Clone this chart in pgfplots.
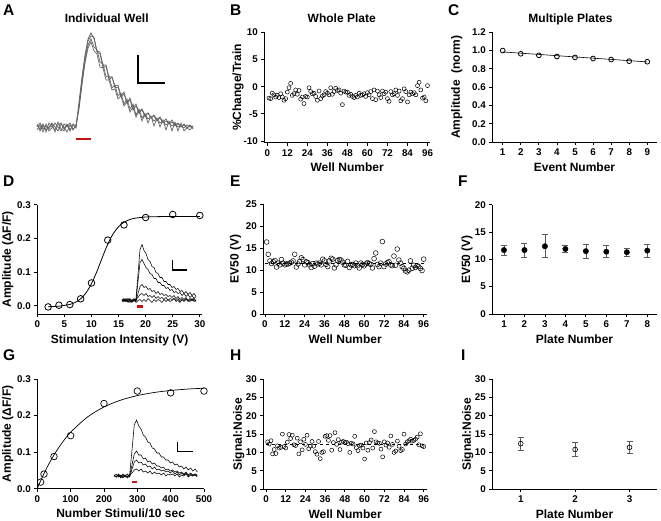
\documentclass[border=0pt]{standalone}
\usepackage{fontspec}
\setmainfont{Liberation Sans}
\usepackage{pgfplots}
\usepackage{pgfplotstable}
\pgfplotsset{compat=1.18}

\definecolor{stimred}{RGB}{200,18,18}
\definecolor{tracegray}{RGB}{100,100,100}
\definecolor{errgray}{RGB}{90,90,90}

\pgfplotsset{
  prism/.style={
    scale only axis, anchor=south west,
    axis lines=left,
    axis line style={-, line width=0.8pt},
    x axis line style={-}, y axis line style={-},
    every tick/.style={black, line width=0.8pt},
    tick align=outside, major tick length=3pt,
    tick label style={font=\bfseries\fontsize{9.8}{10}\selectfont},
    label style={font=\bfseries\fontsize{12}{13}\selectfont},
    /pgf/number format/assume math mode=true,
    clip=false,
  },
  trace/.style={scale only axis, anchor=south west, hide axis, clip=false},
  oneDec/.style={yticklabel style={/pgf/number format/.cd, fixed, fixed zerofill, precision=1}},
}

\pgfplotstableread{
x a b c d
37 3 -3 0 2
40 -4 2 4 -2
43 2 -5 -2 3
46 -5 3 1 -3
49 4 -2 -4 0
52 0 4 -1 3
55 -3 0 4 -5
58 5 -4 0 2
61 -2 3 -4 4
64 -4 0 3 -2
67 3 -5 0 2
70 -3 2 4 -4
73 2 -3 -2 3
76 -1 2 0 1
79 25 20 22 18
82 50 45 48 42
85 72 66 70 64
88 88 82 86 79
91 94 88 91 85
94 88 80 90 76
97 75 77 76 73
100 73 65 75 60
103 59 63 62 59
106 61 50 62 47
109 47 51 50 47
112 50 39 50 37
115 39 42 41 38
118 40 31 42 28
121 30 34 31 31
124 33 23 35 21
127 24 28 24 25
130 27 18 29 15
133 17 23 19 20
136 21 12 23 10
139 14 18 15 16
142 17 9 18 6
145 10 13 12 13
148 14 8 14 4
151 9 10 9 11
154 11 6 12 1
157 6 8 7 9
160 9 4 10 0
163 4 6 5 7
166 6 2 8 -3
169 3 4 3 6
172 5 1 7 -4
175 1 3 2 5
178 3 0 4 -4
181 0 1 0 4
184 2 -1 3 -4
187 -1 2 -1 -1
190 1 0 2 -3
193 -2 1 -1 1
}\traceA

\pgfplotstableread{
x a b c d e f
122 1 -1 0 1 -1 0
124 -1 1 2 -1 1 -1
126 2 0 -1 1 -1 1
128 0 2 1 -2 0 -1
130 -2 0 -1 1 2 2
132 1 -2 0 -1 -1 0
134 -1 1 2 0 1 -2
136 2 0 -1 1 -2 1
138 26 19 7 3 0 11
140 51 38 14 6 1 22
142 56 41 16 7 -1 25
144 50 37 13 5 1 21
146 47 33 14 7 -1 21
148 41 31 11 4 2 17
150 39 27 12 5 0 18
152 34 26 9 3 -2 14
154 33 22 10 5 1 15
156 28 22 7 2 -1 12
158 27 18 9 4 1 13
160 23 18 6 2 0 10
162 23 15 7 3 -2 10
164 19 15 5 1 1 8
166 19 12 6 3 -1 9
168 16 13 4 0 1 6
170 16 10 5 2 -1 7
172 13 11 3 1 0 5
174 14 8 5 2 2 6
176 11 9 2 0 -1 4
178 12 7 4 2 0 5
180 9 8 1 -1 -2 3
182 10 5 3 1 1 4
184 7 7 1 0 -1 2
186 9 4 3 2 1 4
188 6 6 0 -1 0 1
190 8 3 2 1 -1 3
192 5 5 0 0 2 1
194 7 2 2 1 -1 2
196 4 4 0 -1 0 1
}\traceInset

\begin{document}
\begin{tikzpicture}
\useasboundingbox (0,0) rectangle (661pt,521pt);

% ---------- panel letters and titles ----------
\begin{scope}[every node/.style={font=\bfseries\fontsize{15.5}{15.5}\selectfont, anchor=base west, inner sep=0pt}]
\node at (3pt,505pt) {A};
\node at (230pt,505pt) {B};
\node at (448pt,505pt) {C};
\node at (3pt,334pt) {D};
\node at (230pt,334pt) {E};
\node at (458pt,334pt) {F};
\node at (3pt,160pt) {G};
\node at (230pt,160pt) {H};
\node at (461pt,160pt) {I};
\end{scope}
\begin{scope}[every node/.style={font=\bfseries\fontsize{12}{12}\selectfont, anchor=base, inner sep=0pt}]
\node at (106.7pt,498.3pt) {Individual Well};
\node at (341.7pt,498.3pt) {Whole Plate};
\node at (570.5pt,498.3pt) {Multiple Plates};
\end{scope}

% ---------- A: traces ----------
\begin{axis}[trace, at={(36pt,379pt)}, width=158pt, height=115pt,
  xmin=36, xmax=194, ymin=-15, ymax=100]
\foreach \c in {a,b,c,d}{
  \addplot[tracegray, line width=0.7pt] table[x=x, y=\c] {\traceA};
}
\draw[stimred, line width=2.2pt] (axis cs:76,-12) -- (axis cs:90.7,-12);
\draw[black, line width=1.2pt] (axis cs:138,72) -- (axis cs:138,44) -- (axis cs:165,44);
\end{axis}

% ---------- B ----------
\begin{axis}[prism, at={(264.3pt,378.3pt)}, width=165.7pt, height=110.4pt,
  xmin=-1.8, xmax=97.5, ymin=-10.3, ymax=10,
  xtick={0,12,...,96}, ytick={-10,-5,0,5,10}, ylabel shift=-7pt,
  xlabel={Well Number}, ylabel={\%Change/Train}]
\addplot[only marks, mark=o, mark size=2pt, mark options={line width=0.5pt}, black] coordinates {
(1,-2.1) (2,-2.2) (3,-1.2) (4,-1.5) (5,-1.9) (6,-1.6) (7,-2.0) (8,-1.3) (9,-1.9) (10,-2.5)
(11,-2.2) (12,-1.0) (13,-0.2) (14,0.6) (15,-1.6) (16,-1.3) (17,-0.6) (18,-1.4) (19,-0.7) (20,-2.3)
(21,-1.9) (22,-3.1) (23,-1.8) (24,-1.9) (25,-0.2) (26,-0.9) (27,-1.3) (28,-1.2) (29,-1.8) (30,-2.5)
(31,-0.8) (32,-2.2) (33,-1.7) (34,-1.5) (35,-0.9) (36,-1.2) (37,-1.5) (38,-0.2) (39,-1.4) (40,-0.9)
(41,-0.3) (42,-0.7) (43,-0.6) (44,-1.2) (45,-3.3) (46,-0.8) (47,-1.0) (48,-1.0) (49,-1.6) (50,-1.4)
(51,-1.8) (52,-2.0) (53,-1.6) (54,-1.9) (55,-1.2) (56,-1.6) (57,-1.5) (58,-1.3) (59,-1.8) (60,-1.1)
(61,-1.5) (62,-0.9) (63,-2.2) (64,-0.6) (65,-2.4) (66,-0.8) (67,-1.5) (68,-2.0) (69,-0.8) (70,-1.3)
(71,-1.0) (72,-2.2) (73,-2.7) (74,-0.9) (75,-1.5) (76,-1.3) (77,-0.6) (78,-1.6) (79,-0.8) (80,-2.6)
(81,-2.2) (82,-0.4) (83,-0.9) (84,-2.8) (85,-1.5) (86,-1.0) (87,-1.3) (88,-1.1) (89,-1.5) (90,0.2)
(91,0.8) (92,-0.6) (93,-2.1) (94,-1.9) (95,-2.6) (96,0.2)};
\end{axis}

% ---------- C ----------
\begin{axis}[prism, oneDec, at={(492.3pt,379pt)}, width=164.4pt, height=109.7pt,
  xmin=0.425, xmax=9.52, ymin=0, ymax=1.2,
  xtick={1,...,9}, ytick={0,0.2,...,1.2}, ylabel shift=3pt,
  xlabel={Event Number}, ylabel={Amplitude\ \ (norm)}]
\addplot[black, line width=0.6pt] coordinates {(1,0.985) (9,0.876)};
\addplot[only marks, mark=o, mark size=2.4pt, mark options={line width=0.8pt, fill=white}, black] coordinates {
(1,1.0) (2,0.965) (3,0.948) (4,0.935) (5,0.925) (6,0.913) (7,0.902) (8,0.884) (9,0.878)};
\end{axis}

% ---------- D ----------
\begin{axis}[prism, oneDec, at={(37.3pt,207pt)}, width=164.7pt, height=109.3pt,
  xmin=0, xmax=30.4, ymin=-0.024, ymax=0.3,
  xtick={0,5,...,30}, ytick={0,0.1,0.2,0.3}, ylabel shift=-3pt,
  xlabel={Stimulation Intensity (V)}, ylabel={Amplitude (ΔF/F)}]
\addplot[black, line width=0.8pt, smooth] coordinates {
(2,-0.0024) (4,-0.0008) (6,0.0044) (7,0.0105) (8,0.021) (9,0.0388) (10,0.066) (11,0.102)
(11.5,0.1226) (12,0.1435) (12.5,0.1638) (13,0.1826) (13.5,0.1993) (14,0.2136) (15,0.2348)
(16,0.2479) (17,0.2556) (18,0.2599) (20,0.2635) (22,0.2645) (25,0.265) (30,0.265)};
\addplot[only marks, mark=o, mark size=3.3pt, mark options={line width=0.8pt, fill=white}, black] coordinates {
(2,-0.003) (4,0.002) (6,0.004) (8,0.021) (10,0.068) (13,0.195) (16,0.24) (20,0.262) (25,0.271) (30,0.268)};
\end{axis}
\begin{axis}[trace, at={(120pt,210.5pt)}, width=78pt, height=70pt,
  xmin=120, xmax=198, ymin=-10, ymax=60]
\foreach \c in {e,d,c,b,a}{
  \addplot[black, line width=0.55pt] table[x=x, y=\c] {\traceInset};
}
\draw[stimred, line width=2.2pt] (axis cs:136.7,-6) -- (axis cs:142.7,-6);
\draw[black, line width=1.2pt] (axis cs:172.3,40) -- (axis cs:172.3,30.5) -- (axis cs:187.3,30.5);
\end{axis}

% ---------- E ----------
\begin{axis}[prism, at={(263.3pt,207pt)}, width=163.7pt, height=109.7pt,
  xmin=-1.0, xmax=98, ymin=0, ymax=25,
  xtick={0,12,...,96}, ytick={0,5,...,25}, ylabel shift=-2pt,
  xlabel={Well Number}, ylabel={EV50 (V)}]
\addplot[black, dashed, line width=0.6pt] coordinates {(0,11.5) (96,11.5)};
\addplot[only marks, mark=o, mark size=2.4pt, mark options={line width=0.5pt}, black] coordinates {
(1,16.4) (2,13.6) (3,12.1) (4,11.5) (5,11.9) (6,12.2) (7,10.7) (8,11.6) (9,11.2) (10,12.4)
(11,11.6) (12,11.2) (13,11.4) (14,11.4) (15,11.6) (16,11.8) (17,12.1) (18,13.6) (19,10.7) (20,11.4)
(21,12.0) (22,12.8) (23,12.4) (24,11.2) (25,11.9) (26,11.7) (27,11.2) (28,10.6) (29,11.5) (30,10.9)
(31,11.6) (32,11.4) (33,11.6) (34,11.2) (35,12.5) (36,12.1) (37,11.3) (38,10.8) (39,12.1) (40,12.7)
(41,12.5) (42,10.5) (43,11.2) (44,12.2) (45,12.4) (46,12.3) (47,11.8) (48,11.2) (49,11.1) (50,12.0)
(51,10.6) (52,11.2) (53,11.3) (54,11.0) (55,11.6) (56,11.0) (57,10.5) (58,11.6) (59,11.3) (60,11.0)
(61,11.4) (62,11.7) (63,11.5) (64,11.3) (65,10.5) (66,12.6) (67,13.9) (68,11.3) (69,10.8) (70,11.6)
(71,16.5) (72,10.8) (73,11.4) (74,11.7) (75,11.9) (76,11.2) (77,11.0) (78,13.2) (79,11.1) (80,14.8)
(81,12.3) (82,11.6) (83,10.8) (84,10.4) (85,9.8) (86,9.6) (87,10.0) (88,12.1) (89,10.4) (90,11.1)
(91,10.6) (92,11.0) (93,10.8) (94,10.4) (95,9.9) (96,12.5)};
\end{axis}

% ---------- F ----------
\begin{axis}[prism, at={(492.3pt,207pt)}, width=164.4pt, height=109.3pt,
  xmin=0.43, xmax=8.46, ymin=0, ymax=20,
  xtick={1,...,8}, ytick={0,5,...,20}, ylabel shift=-4.5pt,
  xlabel={Plate Number}, ylabel={EV50 (V)}]
\addplot[only marks, mark=*, mark size=2.7pt, black,
  error bars/.cd, y dir=both, y explicit,
  error bar style={line width=0.7pt, errgray},
  error mark options={rotate=90, mark size=3pt, line width=0.7pt, errgray}]
coordinates {
(1,11.7) +- (0,0.9)
(2,11.7) +- (0,1.3)
(3,12.4) +- (0,2.1)
(4,11.9) +- (0,0.7)
(5,11.5) +- (0,1.3)
(6,11.4) +- (0,1.1)
(7,11.3) +- (0,0.8)
(8,11.6) +- (0,1.2)};
\end{axis}

% ---------- G ----------
\begin{axis}[prism, oneDec, at={(37.3pt,32.3pt)}, width=166.7pt, height=109.7pt,
  xmin=0, xmax=500, ymin=0, ymax=0.3,
  xtick={0,100,...,500}, ytick={0,0.1,0.2,0.3}, ylabel shift=-3pt,
  xlabel={Number Stimuli/10 sec}, ylabel={Amplitude (ΔF/F)}]
\addplot[black, line width=0.7pt, smooth] coordinates {
(0,0) (10,0.0215) (20,0.0414) (30,0.0597) (50,0.0923) (75,0.1263) (100,0.1542) (150,0.1957)
(200,0.2235) (250,0.2421) (300,0.2546) (350,0.263) (400,0.2686) (450,0.2724) (500,0.2749)};
\addplot[only marks, mark=o, mark size=3.3pt, mark options={line width=0.7pt, fill=white}, black] coordinates {
(10,0.018) (20,0.04) (50,0.088) (100,0.145) (200,0.233) (300,0.267) (400,0.262) (500,0.267)};
\end{axis}
\begin{axis}[trace, at={(111.75pt,35pt)}, width=87.8pt, height=70pt,
  xmin=120, xmax=198, ymin=-10, ymax=60]
\foreach \c in {d,c,f,a}{
  \addplot[black, line width=0.55pt] table[x=x, y=\c] {\traceInset};
}
\draw[stimred, line width=2.2pt] (axis cs:137.7,-5.7) -- (axis cs:142.4,-5.7);
\draw[black, line width=1.2pt] (axis cs:178.6,34.3) -- (axis cs:178.6,24.3) -- (axis cs:192.4,24.3);
\end{axis}

% ---------- H ----------
\begin{axis}[prism, at={(263.3pt,32pt)}, width=163.7pt, height=109.7pt,
  xmin=-1.64, xmax=98, ymin=0, ymax=30,
  xtick={0,12,...,96}, ytick={0,5,...,30}, ylabel shift=-5.5pt,
  xlabel={Well Number}, ylabel={Signal:Noise}]
\addplot[black, dashed, line width=0.6pt] coordinates {(0,12.1) (96,12.1)};
\addplot[only marks, mark=o, mark size=2pt, mark options={line width=0.5pt}, black] coordinates {
(1,12.9) (2,12.3) (3,13.2) (4,9.6) (5,10.8) (6,9.7) (7,11.8) (8,11.2) (9,11.4) (10,15.0)
(11,11.6) (12,11.2) (13,12.8) (14,14.9) (15,13.8) (16,14.7) (17,12.1) (18,11.9) (19,13.9) (20,9.6)
(21,12.9) (22,10.7) (23,13.6) (24,12.2) (25,14.7) (26,11.0) (27,11.7) (28,13.0) (29,11.7) (30,10.2)
(31,9.5) (32,13.0) (33,8.3) (34,10.0) (35,10.2) (36,14.4) (37,14.6) (38,13.3) (39,14.6) (40,10.6)
(41,12.7) (42,15.4) (43,12.2) (44,13.5) (45,10.8) (46,12.8) (47,13.0) (48,12.7) (49,12.8) (50,12.4)
(51,10.0) (52,12.5) (53,12.3) (54,14.4) (55,11.3) (56,10.5) (57,11.9) (58,12.0) (59,11.2) (60,8.2)
(61,12.6) (62,10.6) (63,12.7) (64,13.4) (65,11.2) (66,15.7) (67,12.9) (68,12.6) (69,12.5) (70,10.9)
(71,8.8) (72,12.9) (73,12.0) (74,12.6) (75,11.4) (76,14.5) (77,12.2) (78,10.0) (79,10.4) (80,13.1)
(81,11.7) (82,10.5) (83,10.8) (84,15.0) (85,12.3) (86,12.9) (87,13.2) (88,13.6) (89,13.1) (90,13.3)
(91,13.6) (92,14.2) (93,12.1) (94,15.1) (95,11.8) (96,11.6)};
\end{axis}

% ---------- I ----------
\begin{axis}[prism, at={(492.3pt,32pt)}, width=164.4pt, height=109.7pt,
  xmin=0.477, xmax=3.5, ymin=0, ymax=30,
  xtick={1,2,3}, ytick={0,5,...,30}, ylabel shift=-5.5pt,
  xlabel={Plate Number}, ylabel={Signal:Noise}]
\addplot[only marks, mark=o, mark size=2.4pt, mark options={line width=0.6pt, fill=white}, black,
  error bars/.cd, y dir=both, y explicit,
  error bar style={line width=0.7pt, errgray},
  error mark options={rotate=90, mark size=3pt, line width=0.7pt, errgray}]
coordinates {
(1,12.4) +- (0,1.7)
(2,10.8) +- (0,1.85)
(3,11.4) +- (0,1.6)};
\end{axis}

\end{tikzpicture}
\end{document}
